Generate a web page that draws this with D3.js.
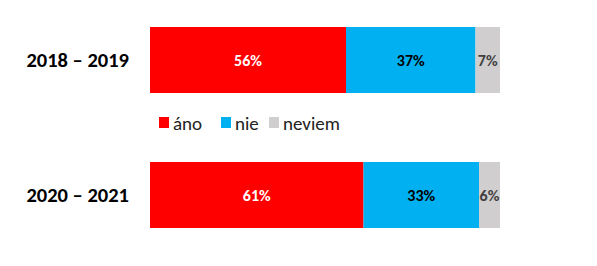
<!DOCTYPE html>
<html>
<head>
<meta charset="utf-8">
<script src="https://cdn.jsdelivr.net/npm/d3@7"></script>
<style>
body { margin: 0; background: #fff; }
</style>
</head>
<body>
<svg></svg>
<script>
var periods = ['2018 – 2019', '2020 – 2021'];
var answers = ['áno', 'nie', 'neviem'];
var ano = [56, 61];
var nie = [37, 33];
var neviem = [7, 6];

var colors = ['#FF0000', '#00B0F0', '#D0CECE'];
var textColors = ['#ffffff', '#000000', '#404040'];

var svgWidth = 597, svgHeight = 266;

var svg = d3.select('svg')
.attr('width', svgWidth)
.attr('height', svgHeight)
.style('font-family', 'Carlito, Calibri, "Liberation Sans", Arial, sans-serif');

var rows = periods.map(function(p, i) {
    return { period: p, 'áno': ano[i], 'nie': nie[i], 'neviem': neviem[i] };
});

var stack = d3.stack().keys(answers)(rows);

var xScale = d3.scaleLinear()
.domain([0, 100])
.range([150, 500]);

var yScale = d3.scaleBand()
.domain(periods)
.range([27, 228])
.paddingInner(0.511)
.paddingOuter(0);

var layers = svg.selectAll('g.layer')
.data(stack)
.enter()
.append('g')
.attr('class', 'layer');

layers.selectAll('rect')
.data(function(d) { return d; })
.enter()
.append('rect')
.attr('x', function(d) { return xScale(d[0]); })
.attr('width', function(d) { return xScale(d[1]) - xScale(d[0]); })
.attr('y', function(d) { return yScale(d.data.period); })
.attr('height', yScale.bandwidth())
.attr('fill', function(d) { return colors[answers.indexOf(d3.select(this.parentNode).datum().key)]; });

layers.each(function(layer, k) {
    d3.select(this).selectAll('text')
    .data(layer)
    .enter()
    .append('text')
    .attr('x', function(d) { return (xScale(d[0]) + xScale(d[1])) / 2; })
    .attr('y', function(d) { return yScale(d.data.period) + yScale.bandwidth() / 2; })
    .attr('dy', '0.35em')
    .attr('text-anchor', 'middle')
    .attr('font-size', 16)
    .attr('font-weight', 'bold')
    .attr('fill', textColors[k])
    .text(function(d) { return (d[1] - d[0]) + '%'; });
});

// category labels
var y_axis = d3.axisLeft(yScale).tickSize(0).tickPadding(21);
var ax = svg.append('g')
.attr('transform', 'translate(150, 0)')
.call(y_axis);
ax.select('.domain').remove();
ax.selectAll('text')
.attr('font-family', 'Carlito, Calibri, "Liberation Sans", Arial, sans-serif')
.attr('font-size', 20.5)
.attr('font-weight', 'bold')
.attr('fill', '#000');

// legend
var legendX = [159, 221, 269];
var legend = svg.selectAll('g.legend')
.data(answers)
.enter()
.append('g')
.attr('class', 'legend')
.attr('transform', function(d, i) { return 'translate(' + legendX[i] + ', 117)'; });

legend.append('rect')
.attr('width', 10)
.attr('height', 11)
.attr('fill', function(d, i) { return colors[i]; });

legend.append('text')
.attr('x', 14)
.attr('y', 6)
.attr('dy', '0.35em')
.attr('font-size', 19)
.attr('fill', '#222')
.text(function(d) { return d; });
</script>
</body>
</html>
